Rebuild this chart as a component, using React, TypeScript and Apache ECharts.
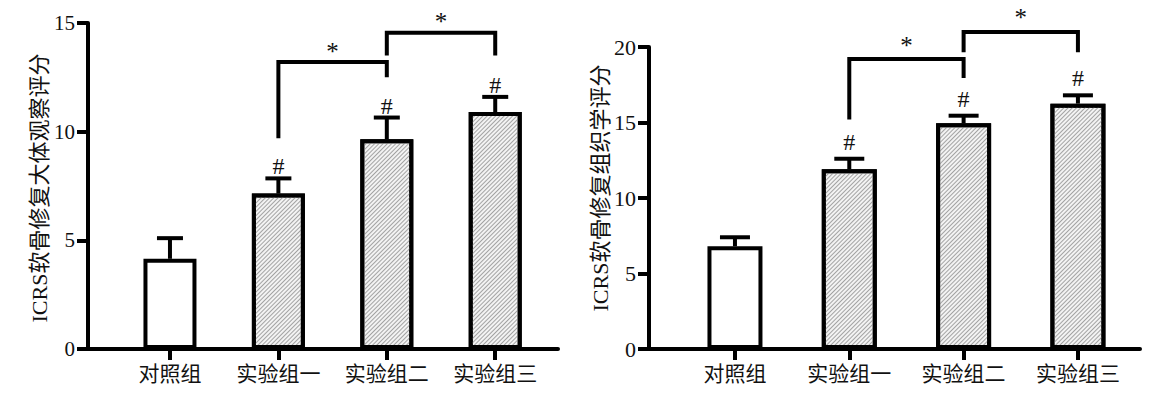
import React, { useEffect, useRef } from 'react';
import * as echarts from 'echarts';

const categories = ['对照组', '实验组一', '实验组二', '实验组三'];

const grossMeans = [4.15, 7.15, 9.65, 10.9];
const grossErrors = [0.95, 0.7, 1.0, 0.7];
const grossMarks = ['', '#', '#', '#'];
// [fromIndex, toIndex, bracketTop, leftFoot, rightFoot]
const grossBrackets = [
  [1, 2, 13.2, 9.7, 12.5],
  [2, 3, 14.55, 13.5, 13.5],
];

const histoMeans = [6.8, 11.9, 14.95, 16.25];
const histoErrors = [0.6, 0.7, 0.5, 0.55];
const histoMarks = ['', '#', '#', '#'];
const histoBrackets = [
  [1, 2, 19.2, 15.2, 17.95],
  [2, 3, 21.0, 19.65, 19.65],
];

const grossAxisMax = 15;
const histoAxisMax = 20;
const axisInterval = 5;

const grossName = 'ICRS软骨修复大体观察评分';
const histoName = 'ICRS软骨修复组织学评分';

const FONT = '"Liberation Serif", "Times New Roman", "Noto Sans CJK SC", serif';
const INK = '#111';

function barData(means: number[]) {
  return means.map((m, i) =>
    i === 0
      ? { value: [i, m], itemStyle: { color: '#ffffff' } }
      : {
          value: [i, m],
          itemStyle: {
            color: '#f3f3f3',
            decal: {
              symbol: 'rect',
              symbolSize: 1,
              dashArrayX: [1, 0],
              dashArrayY: [1, 2],
              rotation: -Math.PI / 4,
              color: '#a3a3a3',
            },
          },
        }
  );
}

function errorSeries(idx: number, means: number[], errs: number[], marks: string[], gap: number, cap: number) {
  return {
    type: 'custom',
    xAxisIndex: idx,
    yAxisIndex: idx,
    z: 5,
    clip: false,
    silent: true,
    data: means.map((m, i) => [i, m, errs[i]]),
    encode: { x: 0, y: 1 },
    renderItem: (params: any, api: any) => {
      const x = api.value(0);
      const m = api.value(1);
      const e = api.value(2);
      const base = api.coord([x, m]);
      const top = api.coord([x, m + e]);
      const mark = marks[params.dataIndex];
      return {
        type: 'group',
        children: [
          { type: 'line', shape: { x1: base[0], y1: base[1], x2: top[0], y2: top[1] }, style: { stroke: '#000', lineWidth: 4 } },
          { type: 'line', shape: { x1: top[0] - cap, y1: top[1], x2: top[0] + cap, y2: top[1] }, style: { stroke: '#000', lineWidth: 4 } },
          {
            type: 'text',
            x: top[0],
            y: top[1] - gap,
            style: { text: mark, fontSize: 24, fontFamily: FONT, align: 'center', verticalAlign: 'middle', fill: INK },
          },
        ],
      };
    },
  };
}

function bracketSeries(idx: number, brackets: number[][], gap: number) {
  return {
    type: 'custom',
    xAxisIndex: idx,
    yAxisIndex: idx,
    z: 5,
    clip: false,
    silent: true,
    data: brackets,
    encode: { x: [0, 1], y: [2, 3, 4] },
    renderItem: (params: any, api: any) => {
      const a = api.value(0);
      const b = api.value(1);
      const t = api.value(2);
      const lf = api.value(3);
      const rf = api.value(4);
      const p1 = api.coord([a, lf]);
      const p2 = api.coord([a, t]);
      const p3 = api.coord([b, t]);
      const p4 = api.coord([b, rf]);
      return {
        type: 'group',
        children: [
          {
            type: 'polyline',
            shape: { points: [p1, p2, p3, p4] },
            style: { stroke: '#000', lineWidth: 4, fill: 'none', lineJoin: 'miter' },
          },
          {
            type: 'text',
            x: (p2[0] + p3[0]) / 2,
            y: p2[1] - gap,
            style: { text: '*', fontSize: 25, fontFamily: FONT, align: 'center', verticalAlign: 'middle', fill: INK },
          },
        ],
      };
    },
  };
}

function xAxis(idx: number, min: number, max: number) {
  return {
    type: 'value',
    gridIndex: idx,
    min,
    max,
    splitLine: { show: false },
    axisLine: { show: true, onZero: false, lineStyle: { color: '#000', width: 4 } },
    axisTick: { show: true, customValues: [0, 1, 2, 3], length: 11, lineStyle: { color: '#000', width: 4 } },
    axisLabel: {
      customValues: [0, 1, 2, 3],
      formatter: (v: number) => categories[Math.round(v)] ?? '',
      fontSize: 21,
      fontFamily: FONT,
      color: INK,
      margin: 14,
    },
  };
}

function yAxis(idx: number, max: number, fontSize: number) {
  return {
    type: 'value',
    gridIndex: idx,
    min: 0,
    max,
    interval: axisInterval,
    splitLine: { show: false },
    axisLine: { show: true, onZero: false, lineStyle: { color: '#000', width: 4 } },
    axisTick: { show: true, length: 11, lineStyle: { color: '#000', width: 4 } },
    axisLabel: { fontSize, fontFamily: FONT, color: INK, margin: 13 },
  };
}

function axisTitle(text: string, x: number, y: number) {
  return {
    type: 'text',
    x,
    y,
    rotation: Math.PI / 2,
    silent: true,
    style: { text, fontSize: 22, fontFamily: FONT, fill: INK, align: 'center', verticalAlign: 'middle' },
  };
}

export default function App() {
  const ref = useRef<HTMLDivElement>(null);
  useEffect(() => {
    if (!ref.current) return;
    const chart = echarts.init(ref.current, undefined, { renderer: 'svg' });
    const barStyle = { borderColor: '#000', borderWidth: 4 };
    chart.setOption({
      animation: false,
      backgroundColor: '#fff',
      grid: [
        { left: 88, top: 23, width: 470, height: 326 },
        { left: 649, top: 47, width: 491, height: 302 },
      ],
      xAxis: [xAxis(0, -0.756, 3.579), xAxis(1, -0.752, 3.543)],
      yAxis: [yAxis(0, grossAxisMax, 21), yAxis(1, histoAxisMax, 22)],
      graphic: [axisTitle(grossName, 39, 188), axisTitle(histoName, 600, 188)],
      series: [
        {
          type: 'bar',
          xAxisIndex: 0,
          yAxisIndex: 0,
          barWidth: 53,
          itemStyle: barStyle,
          data: barData(grossMeans),
          silent: true,
        },
        errorSeries(0, grossMeans, grossErrors, grossMarks, 12, 13),
        bracketSeries(0, grossBrackets, 11),
        {
          type: 'bar',
          xAxisIndex: 1,
          yAxisIndex: 1,
          barWidth: 55,
          itemStyle: barStyle,
          data: barData(histoMeans),
          silent: true,
        },
        errorSeries(1, histoMeans, histoErrors, histoMarks, 17, 15),
        bracketSeries(1, histoBrackets, 14),
      ],
    });
    return () => chart.dispose();
  }, []);
  return (
    <div
      ref={ref}
      style={{ position: 'fixed', left: 0, top: 0, width: 1167, height: 394, background: '#fff' }}
    />
  );
}
